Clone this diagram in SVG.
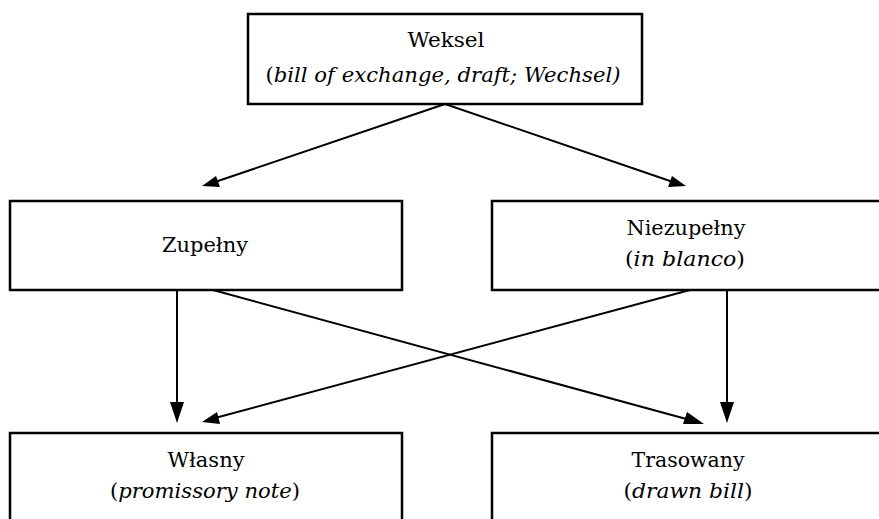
<svg xmlns="http://www.w3.org/2000/svg" width="879" height="519" viewBox="0 0 879 519">
<style>
.box{fill:#fff;stroke:#000;stroke-width:2.5}
text{font-family:'DejaVu Serif',serif;font-size:21px;text-anchor:middle;fill:#000}
.i{font-style:italic}
</style>
<rect width="879" height="519" fill="#fff"/>
<g id="connectors">
<line x1="445" y1="104" x2="215" y2="182" stroke="#000" stroke-width="2"/>
<polygon points="202,186 216,176 220,187" fill="#000"/>
<line x1="445" y1="104" x2="673" y2="182" stroke="#000" stroke-width="2"/>
<polygon points="686,186 668,187 672,176" fill="#000"/>
<line x1="177" y1="290" x2="177" y2="404" stroke="#000" stroke-width="2"/>
<polygon points="177,423 170,402 184,402" fill="#000"/>
<line x1="727" y1="290" x2="727" y2="404" stroke="#000" stroke-width="2"/>
<polygon points="727,423 720,402 734,402" fill="#000"/>
<line x1="213" y1="290" x2="690" y2="420" stroke="#000" stroke-width="2"/>
<polygon points="704,424 683,424 687,412" fill="#000"/>
<line x1="690" y1="290" x2="215" y2="418" stroke="#000" stroke-width="2"/>
<polygon points="202,422 217,412 220,424" fill="#000"/>
</g>
<g id="weksel">
<rect class="box" x="248" y="14" width="394" height="90"/>
<text x="446" y="47" textLength="77" lengthAdjust="spacingAndGlyphs">Weksel</text>
<text x="443" y="82" textLength="355" lengthAdjust="spacingAndGlyphs">(<tspan class="i">bill of exchange, draft; Wechsel)</tspan></text>
</g>
<g id="zupelny">
<rect class="box" x="10" y="201" width="392" height="89"/>
<text x="205" y="252" textLength="86" lengthAdjust="spacingAndGlyphs">Zupełny</text>
</g>
<g id="niezupelny">
<rect class="box" x="492" y="201" width="392" height="89"/>
<text x="686" y="235" textLength="119" lengthAdjust="spacingAndGlyphs">Niezupełny</text>
<text x="685" y="266" textLength="120" lengthAdjust="spacingAndGlyphs">(<tspan class="i">in blanco</tspan>)</text>
</g>
<g id="wlasny">
<rect class="box" x="10" y="433" width="392" height="100"/>
<text x="206" y="467" textLength="77" lengthAdjust="spacingAndGlyphs">Własny</text>
<text x="205" y="498" textLength="190" lengthAdjust="spacingAndGlyphs">(<tspan class="i">promissory note</tspan>)</text>
</g>
<g id="trasowany">
<rect class="box" x="492" y="433" width="392" height="100"/>
<text x="688" y="467" textLength="113" lengthAdjust="spacingAndGlyphs">Trasowany</text>
<text x="688" y="498" textLength="129" lengthAdjust="spacingAndGlyphs">(<tspan class="i">drawn bill</tspan>)</text>
</g>
</svg>
